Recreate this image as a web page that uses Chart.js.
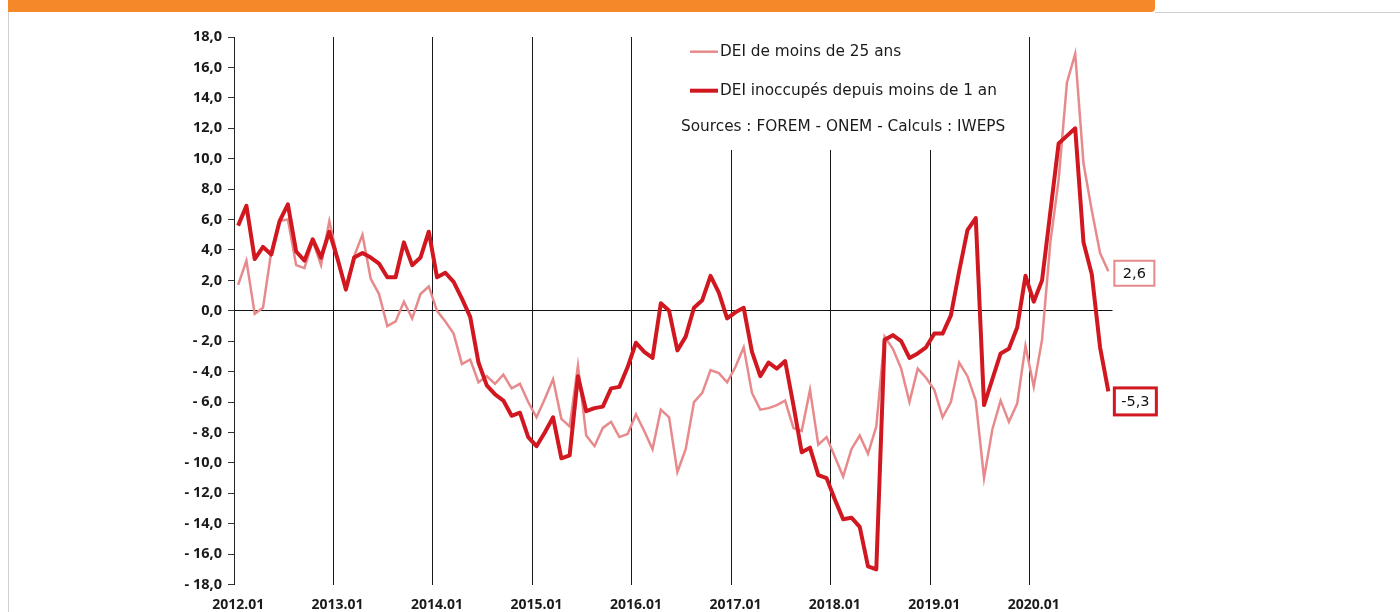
<!DOCTYPE html>
<html>
<head>
<meta charset="utf-8">
<script src="https://cdn.jsdelivr.net/npm/chart.js@4/dist/chart.umd.min.js"></script>
<style>
  html, body { margin: 0; padding: 0; background: #fff; }
  #wrap { position: relative; width: 1400px; height: 612px; overflow: hidden; }
  #bar { position: absolute; left: 8px; top: 0; width: 1147px; height: 12px; background: #f5892a; border-bottom-right-radius: 4px; }
  #rule { position: absolute; left: 1155px; top: 12px; width: 245px; height: 1px; background: #d0d0d0; }
  #side { position: absolute; left: 8px; top: 12px; width: 1px; height: 600px; background: #d0d0d0; }
  canvas { position: absolute; left: 0; top: 0; }
</style>
</head>
<body>
<div id="wrap">
  <div id="bar"></div>
  <div id="rule"></div>
  <div id="side"></div>
  <canvas id="chart" width="1400" height="612"></canvas>
</div>
<script>
// monthly, 2012.01 -> 2020.10
const years = ['2012', '2013', '2014', '2015', '2016', '2017', '2018', '2019', '2020'];
const monthNums = ['01', '02', '03', '04', '05', '06', '07', '08', '09', '10', '11', '12'];
const lastMonthCount = 10; // data stops at 2020.10

const months = [];
years.forEach((y, yi) => {
  const n = yi === years.length - 1 ? lastMonthCount : 12;
  for (let m = 0; m < n; m++) months.push(y + '.' + monthNums[m]);
});

// DEI de moins de 25 ans
const under25 = [
  1.7, 3.3, -0.2, 0.2, 3.9, 5.9, 6.0, 3.0, 2.8, 4.6, 3.0, 5.9,
  3.5, 1.5, 3.6, 5.0, 2.1, 1.1, -1.0, -0.7, 0.6, -0.5, 1.1, 1.6,
  0.0, -0.7, -1.5, -3.5, -3.2, -4.7, -4.3, -4.8, -4.2, -5.1, -4.8, -6.0,
  -7.0, -5.8, -4.5, -7.1, -7.6, -3.6, -8.2, -8.9, -7.7, -7.3, -8.3, -8.1,
  -6.8, -7.9, -9.1, -6.5, -7.0, -10.6, -9.1, -6.0, -5.4, -3.9, -4.1, -4.7,
  -3.7, -2.4, -5.4, -6.5, -6.4, -6.2, -5.9, -7.7, -7.9, -5.2, -8.8, -8.3,
  -9.6, -10.9, -9.1, -8.2, -9.4, -7.6, -1.7, -2.5, -3.8, -6.0, -3.8, -4.4,
  -5.2, -7.0, -6.0, -3.4, -4.3, -5.9, -11.0, -7.8, -5.9, -7.3, -6.1, -2.3,
  -5.0, -1.9, 4.5, 8.6, 15.0, 16.9, 9.7, 6.6, 3.8, 2.6
];

// DEI inoccupés depuis moins de 1 an
const lessThan1y = [
  5.6, 6.9, 3.4, 4.2, 3.7, 5.9, 7.0, 3.9, 3.3, 4.7, 3.5, 5.2,
  3.4, 1.4, 3.5, 3.8, 3.5, 3.1, 2.2, 2.2, 4.5, 3.0, 3.5, 5.2,
  2.2, 2.5, 1.9, 0.8, -0.4, -3.4, -4.9, -5.5, -5.9, -6.9, -6.7, -8.3,
  -8.9, -8.0, -7.0, -9.7, -9.5, -4.3, -6.6, -6.4, -6.3, -5.1, -5.0, -3.7,
  -2.1, -2.7, -3.1, 0.5, 0.0, -2.6, -1.7, 0.2, 0.7, 2.3, 1.2, -0.5,
  -0.1, 0.2, -2.7, -4.3, -3.4, -3.8, -3.3, -6.2, -9.3, -9.0, -10.8, -11.0,
  -12.4, -13.7, -13.6, -14.2, -16.8, -17.0, -1.9, -1.6, -2.0, -3.1, -2.8, -2.4,
  -1.5, -1.5, -0.3, 2.6, 5.3, 6.1, -6.2, -4.5, -2.8, -2.5, -1.1, 2.3,
  0.6, 2.0, 6.5, 11.0, 11.5, 12.0, 4.5, 2.4, -2.4, -5.3
];

const sourceText = 'Sources : FOREM - ONEM - Calculs : IWEPS';

const lightRed = '#e88a8c';
const darkRed = '#d1171f';
const tickFont = '"Open Sans", "Noto Sans", sans-serif';
const textFont = '"DejaVu Sans", "Noto Sans", sans-serif';

const fmt = v => {
  const s = Math.abs(v).toFixed(1).replace('.', ',');
  return v < 0 ? '- ' + s : s;
};

// legend box + end-of-series value tags
const extras = {
  id: 'extras',
  beforeDatasetsDraw(chart) {
    const ctx = chart.ctx;
    ctx.save();
    ctx.fillStyle = '#fff';
    ctx.fillRect(676, chart.chartArea.top - 2, 338, 150 - chart.chartArea.top + 2);
    ctx.restore();
  },
  afterDraw(chart) {
    const ctx = chart.ctx;
    ctx.save();
    // legend
    const rows = [51.7, 90.7];
    chart.data.datasets.forEach((ds, i) => {
      const y = rows[i];
      ctx.strokeStyle = ds.borderColor;
      ctx.lineWidth = ds.borderWidth;
      ctx.beginPath();
      ctx.moveTo(690, y);
      ctx.lineTo(718, y);
      ctx.stroke();
      ctx.fillStyle = '#1a1a1a';
      ctx.font = '15.3px ' + textFont;
      ctx.textBaseline = 'middle';
      ctx.textAlign = 'left';
      ctx.fillText(ds.label, 720, y + 0.5);
    });
    ctx.fillText(sourceText, 681, 127.5);

    // value tags at the end of each line
    const tags = [
      { ds: 0, dy: 2, w: 40, h: 25, lw: 2 },
      { ds: 1, dy: 10, w: 42, h: 27, lw: 3 }
    ];
    tags.forEach(t => {
      const meta = chart.getDatasetMeta(t.ds);
      const pt = meta.data[meta.data.length - 1];
      const ds = chart.data.datasets[t.ds];
      const v = ds.data[ds.data.length - 1];
      const x = pt.x + 6;
      const yc = pt.y + t.dy;
      ctx.fillStyle = '#fff';
      ctx.fillRect(x, yc - t.h / 2, t.w, t.h);
      ctx.strokeStyle = ds.borderColor;
      ctx.lineWidth = t.lw;
      ctx.strokeRect(x, yc - t.h / 2, t.w, t.h);
      ctx.fillStyle = '#111';
      ctx.font = '14.5px ' + textFont;
      ctx.textAlign = 'center';
      ctx.fillText(v.toFixed(1).replace('.', ','), x + t.w / 2, yc + 1);
    });
    ctx.restore();
  }
};

new Chart(document.getElementById('chart'), {
  type: 'line',
  data: {
    labels: months,
    datasets: [
      {
        label: 'DEI de moins de 25 ans',
        data: under25,
        borderColor: lightRed,
        borderWidth: 2.5,
        pointRadius: 0,
        tension: 0,
        order: 2
      },
      {
        label: 'DEI inoccupés depuis moins de 1 an',
        data: lessThan1y,
        borderColor: darkRed,
        borderWidth: 4,
        pointRadius: 0,
        tension: 0,
        borderJoinStyle: 'round',
        order: 1
      }
    ]
  },
  options: {
    responsive: false,
    animation: false,
    devicePixelRatio: 1,
    layout: { padding: { left: 0, right: 287.5, top: 37, bottom: 0 } },
    plugins: {
      legend: { display: false },
      tooltip: { enabled: false }
    },
    scales: {
      x: {
        type: 'category',
        offset: true,
        afterFit: s => { s.height = 27.4; },
        border: { display: false },
        grid: {
          offset: true,
          drawTicks: false,
          color: c => (c.index % 12 === 0 && c.index < months.length) ? '#1a1a1a' : 'rgba(0,0,0,0)',
          lineWidth: 1
        },
        ticks: {
          autoSkip: false,
          maxRotation: 0,
          padding: 12,
          color: '#1a1a1a',
          font: { family: tickFont, size: 14, weight: 'bold' },
          callback: function (val, idx) {
            const lab = this.getLabelForValue(val);
            return lab.endsWith('.01') ? lab : '';
          }
        }
      },
      y: {
        min: -18,
        max: 18,
        afterFit: s => { s.width = 234; },
        border: { display: true, color: '#222', width: 1 },
        grid: {
          color: c => c.tick && c.tick.value === 0 ? '#111' : 'rgba(0,0,0,0)',
          tickColor: '#333',
          tickLength: 6
        },
        ticks: {
          stepSize: 2,
          padding: 6,
          color: '#1a1a1a',
          font: { family: tickFont, size: 14.5, weight: 'bold' },
          callback: v => fmt(v)
        }
      }
    }
  },
  plugins: [extras]
});
</script>
</body>
</html>
